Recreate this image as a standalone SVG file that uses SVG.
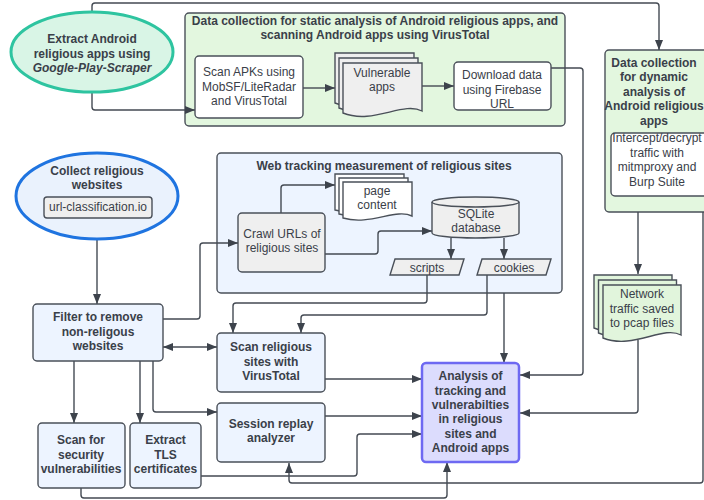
<svg xmlns="http://www.w3.org/2000/svg" width="704" height="500" viewBox="0 0 704 500">
<defs>
<marker id="ah" viewBox="0 0 10 8" refX="10" refY="4" markerWidth="10" markerHeight="8" markerUnits="userSpaceOnUse" orient="auto-start-reverse">
<path d="M0,0 L10,4 L0,8 z" fill="#3d434c"/>
</marker>
<path id="doc1" d="M0,0 H79 V48 C60,38 30,62 0,50 Z"/>
</defs>
<style>
.t{font-family:"Liberation Sans",Arial,sans-serif;font-size:12px;fill:#3a4049;text-anchor:middle}
.b{font-weight:bold}
.box{stroke:#4a5059;stroke-width:1.4}
.blue{fill:#edf4ff}
.green{fill:#e3f7df}
.gray{fill:#efefef}
.white{fill:#ffffff}
.c{fill:none;stroke:#444a53;stroke-width:1.4;stroke-linejoin:round}
.a{marker-end:url(#ah)}
</style>
<rect width="704" height="500" fill="#ffffff"/>

<g id="static-group">
<rect class="box green" x="185" y="13" width="380" height="113" rx="4"/>
<text class="t b" x="375" y="25">Data collection for static analysis of Android religious apps, and</text>
<text class="t b" x="375" y="39">scanning Android apps using VirusTotal</text>
</g>
<g id="dynamic-group">
<rect class="box green" x="605" y="50" width="104" height="162" rx="4"/>
<text class="t b" x="654" y="67">Data collection</text>
<text class="t b" x="654" y="81">for dynamic</text>
<text class="t b" x="654" y="95.5">analysis of</text>
<text class="t b" x="654" y="110">Android religious</text>
<text class="t b" x="654" y="124.5">apps</text>
</g>
<g id="web-group">
<rect class="box blue" x="217" y="153" width="345" height="140" rx="4"/>
<text class="t b" x="384" y="170">Web tracking measurement of religious sites</text>
</g>

<g id="connectors">
<path class="c a" d="M92,12 V6 Q92,3 95,3 H656 Q659,3 659,6 V50"/>
<path class="c a" d="M92,93 V107 Q92,110 95,110 H195"/>
<path class="c a" d="M303,88 H335"/>
<path class="c a" d="M422,86 H454"/>
<path class="c a" d="M551,68 H580 Q583,68 583,71 V372 Q583,375 580,375 H520"/>
<path class="c a" d="M638,212 V274"/>
<path class="c a" d="M638,340 V410 Q638,413 635,413 H520"/>
<path class="c a" d="M703,212 V480 Q703,483 700,483 H292 Q289,483 289,480 V463"/>
<path class="c a" d="M97,239 V304"/>
<path class="c a" d="M163,319 H197 Q200,319 200,316 V246 Q200,243 203,243 H238"/>
<path class="c a" d="M163,347 H217" marker-start="url(#ah)"/>
<path class="c a" d="M74,361 V423"/>
<path class="c a" d="M140,361 V423"/>
<path class="c a" d="M153,361 V409 Q153,412 156,412 H217"/>
<path class="c a" d="M281,213 V188 Q281,185 284,185 H335"/>
<path class="c a" d="M325,254 H375 Q378,254 378,251 V234 Q378,231 381,231 H432"/>
<path class="c a" d="M451,238 V259"/>
<path class="c a" d="M504,238 V259"/>
<path class="c a" d="M427,275 V300 Q427,303 424,303 H236 Q233,303 233,306 V333"/>
<path class="c a" d="M487,275 V312 Q487,315 484,315 H304 Q301,315 301,318 V333"/>
<path class="c a" d="M504,293 V363"/>
<path class="c a" d="M325,379 H422"/>
<path class="c a" d="M325,416 H422"/>
<path class="c a" d="M201,476 H354 Q357,476 357,473 V437 Q357,434 360,434 H422"/>
<path class="c a" d="M81,488 V495 Q81,498 84,498 H444 Q447,498 447,495 V462"/>
</g>

<g id="extract-apps">
<ellipse cx="92" cy="52" rx="81" ry="40" fill="#d9f5e6" stroke="#2ec4a0" stroke-width="3"/>
<text class="t b" x="92" y="43">Extract Android</text>
<text class="t b" x="92" y="57.5">religious apps using</text>
<text class="t b" x="92" y="72" font-style="italic">Google-Play-Scraper</text>
</g>

<g id="scan-apks">
<rect class="box white" x="195" y="56" width="108" height="62" rx="4"/>
<text class="t" x="249" y="76">Scan APKs using</text>
<text class="t" x="249" y="90.5">MobSF/LiteRadar</text>
<text class="t" x="249" y="105">and VirusTotal</text>
</g>

<g id="vulnerable-apps">
<use href="#doc1" x="335" y="53" class="box gray"/>
<use href="#doc1" x="339" y="58" class="box gray"/>
<use href="#doc1" x="343" y="63" class="box gray"/>
<text class="t" x="382" y="77">Vulnerable</text>
<text class="t" x="382" y="91">apps</text>
</g>

<g id="download">
<rect class="box white" x="454" y="62" width="97" height="48" rx="4"/>
<text class="t" x="502" y="79">Download data</text>
<text class="t" x="502" y="93.5">using Firebase</text>
<text class="t" x="502" y="108">URL</text>
</g>

<g id="intercept">
<rect class="box white" x="611" y="133" width="104" height="63" rx="4"/>
<text class="t" x="657" y="142">Intercept/decrypt</text>
<text class="t" x="657" y="156.5">traffic with</text>
<text class="t" x="657" y="171">mitmproxy and</text>
<text class="t" x="657" y="185.5">Burp Suite</text>
</g>

<g id="network-traffic">
<path class="box" fill="#e1f5dc" d="M594,275 H672 V325 C654,315 624,340 594,328 Z"/>
<path class="box" fill="#e1f5dc" d="M598.5,280 H676.5 V330 C658,320 628,345 598.5,333 Z"/>
<path class="box" fill="#e1f5dc" d="M603,285 H681 V335 C663,325 633,350 603,338 Z"/>
<text class="t" x="642" y="298">Network</text>
<text class="t" x="642" y="312.5">traffic saved</text>
<text class="t" x="642" y="327">to pcap files</text>
</g>

<g id="collect-websites">
<ellipse cx="97" cy="196" rx="81" ry="43" fill="#eaf2fd" stroke="#1f74e0" stroke-width="3"/>
<text class="t b" x="97" y="175">Collect religious</text>
<text class="t b" x="97" y="189">websites</text>
<rect class="box gray" x="44" y="197" width="108" height="21" rx="3"/>
<text class="t" x="98" y="211">url-classification.io</text>
</g>

<g id="crawl">
<rect class="box gray" x="238" y="213" width="87" height="59" rx="4"/>
<text class="t" x="282" y="238">Crawl URLs of</text>
<text class="t" x="282" y="252">religious sites</text>
</g>

<g id="page-content">
<path class="box white" d="M335,174 H404 V208 C388,200 362,218 335,210 Z"/>
<path class="box white" d="M339,178 H408 V212 C392,204 366,222 339,214 Z"/>
<path class="box white" d="M343,182 H412 V216 C396,208 370,226 343,218 Z"/>
<text class="t" x="377" y="195">page</text>
<text class="t" x="377" y="209">content</text>
</g>

<g id="sqlite">
<path class="box gray" d="M432,202 A43.5,5 0 0,1 519,202 V233 A43.5,5 0 0,1 432,233 Z"/>
<path class="box" fill="none" d="M432,202 A43.5,5 0 0,0 519,202"/>
<text class="t" x="476" y="218">SQLite</text>
<text class="t" x="476" y="232">database</text>
</g>

<g id="scripts">
<path class="box gray" d="M395,259 H464 L459,275 H390 Z"/>
<text class="t" x="427" y="272">scripts</text>
</g>
<g id="cookies">
<path class="box gray" d="M482,259 H551 L546,275 H477 Z"/>
<text class="t" x="514" y="272">cookies</text>
</g>

<g id="filter">
<rect class="box blue" x="33" y="304" width="130" height="57" rx="4"/>
<text class="t b" x="98" y="321">Filter to remove</text>
<text class="t b" x="98" y="335.5">non-religous</text>
<text class="t b" x="98" y="350">websites</text>
</g>

<g id="scan-sites">
<rect class="box blue" x="217" y="333" width="108" height="59" rx="4"/>
<text class="t b" x="271" y="351">Scan religious</text>
<text class="t b" x="271" y="365.5">sites with</text>
<text class="t b" x="271" y="380">VirusTotal</text>
</g>

<g id="session-replay">
<rect class="box blue" x="217" y="403" width="108" height="59" rx="4"/>
<text class="t b" x="271" y="428">Session replay</text>
<text class="t b" x="271" y="442">analyzer</text>
</g>

<g id="scan-security">
<rect class="box blue" x="38" y="423" width="87" height="65" rx="4"/>
<text class="t b" x="81" y="444">Scan for</text>
<text class="t b" x="81" y="458.5">security</text>
<text class="t b" x="81" y="473">vulnerabilities</text>
</g>

<g id="extract-tls">
<rect class="box blue" x="130" y="423" width="71" height="65" rx="4"/>
<text class="t b" x="165.5" y="444">Extract</text>
<text class="t b" x="165.5" y="458.5">TLS</text>
<text class="t b" x="165.5" y="473">certificates</text>
</g>

<g id="analysis">
<rect x="422" y="363" width="97" height="99" rx="4" fill="#dcdcfd" stroke="#6e69f2" stroke-width="2.5"/>
<text class="t b" x="470.5" y="380">Analysis of</text>
<text class="t b" x="470.5" y="394.5">tracking and</text>
<text class="t b" x="470.5" y="409">vulnerabilties</text>
<text class="t b" x="470.5" y="423">in religious</text>
<text class="t b" x="470.5" y="437.5">sites and</text>
<text class="t b" x="470.5" y="452">Android apps</text>
</g>
</svg>
